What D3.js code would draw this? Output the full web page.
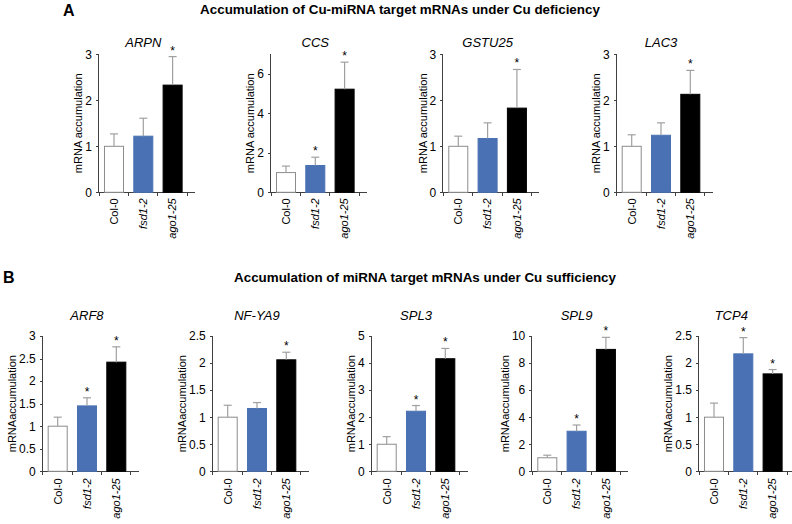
<!DOCTYPE html>
<html>
<head>
<meta charset="utf-8">
<script src="https://d3js.org/d3.v7.min.js"></script>
<style>
body { margin: 0; background: #fff; }
text { font-family: Arial, "Liberation Sans", sans-serif; fill: #000; }
.axis path, .axis line { stroke: #404040; shape-rendering: crispEdges; }
.axis text { font-size: 12px; }
</style>
</head>
<body>
<svg id="chart" width="792" height="524"></svg>
<script>
// genotypes shared by every panel
var genotypes = ["Col-0", "fsd1-2", "ago1-25"];

// panel A - Cu deficiency
var genesA = ["ARPN", "CCS", "GSTU25", "LAC3"];
var meansA = [[1.0, 1.22, 2.33], [1.0, 1.36, 5.23], [1.0, 1.17, 1.83], [1.0, 1.24, 2.13]];
var errorsA = [[0.27, 0.39, 0.62], [0.33, 0.42, 1.37], [0.22, 0.34, 0.84], [0.25, 0.27, 0.52]];
var starsA = [[0, 0, 1], [0, 1, 1], [0, 0, 1], [0, 0, 1]];
var yMaxA = [3, 7, 3, 3];
var yTicksA = [[0, 1, 2, 3], [0, 2, 4, 6], [0, 1, 2, 3], [0, 1, 2, 3]];

// panel B - Cu sufficiency
var genesB = ["ARF8", "NF-YA9", "SPL3", "SPL9", "TCP4"];
var meansB = [[1.0, 1.45, 2.42], [1.0, 1.16, 2.06], [1.0, 2.22, 4.16], [1.0, 2.96, 9.01], [1.0, 2.17, 1.80]];
var errorsB = [[0.20, 0.18, 0.34], [0.22, 0.11, 0.14], [0.28, 0.21, 0.38], [0.19, 0.46, 0.89], [0.26, 0.30, 0.08]];
var starsB = [[0, 1, 1], [0, 0, 1], [0, 1, 1], [0, 1, 1], [0, 1, 1]];
var yMaxB = [3, 2.5, 5, 10, 2.5];
var yTicksB = [[0, 0.5, 1, 1.5, 2, 2.5, 3], [0, 0.5, 1, 1.5, 2, 2.5], [0, 1, 2, 3, 4, 5], [0, 2, 4, 6, 8, 10], [0, 0.5, 1, 1.5, 2, 2.5]];

var titleA = "Accumulation of Cu-miRNA target mRNAs under Cu deficiency";
var titleB = "Accumulation of miRNA target mRNAs under Cu sufficiency";

var fills = ["#ffffff", "#4a71b3", "#000000"];
var strokes = ["#8c8c8c", "#4a71b3", "#000000"];

var svg = d3.select("#chart");

// section headings
svg.append("text").attr("x", 63).attr("y", 16).style("font-size", "16px").style("font-weight", "bold").text("A");
svg.append("text").attr("x", 3).attr("y", 283).style("font-size", "16px").style("font-weight", "bold").text("B");
svg.append("text").attr("x", 400).attr("y", 14).attr("text-anchor", "middle")
    .style("font-size", "13.4px").style("font-weight", "bold").text(titleA);
svg.append("text").attr("x", 425).attr("y", 282).attr("text-anchor", "middle")
    .style("font-size", "13.4px").style("font-weight", "bold").text(titleB);

function drawPanel(opt) {
    var g = svg.append("g").attr("transform", "translate(" + opt.x + ",0)");

    var y = d3.scaleLinear().domain([0, opt.yMax]).range([opt.bottom, opt.top]);
    var x = d3.scaleBand().domain(genotypes).range([0, 88.6])
        .paddingInner(0.317).paddingOuter(0.17);
    var cx = function(i) { return x(genotypes[i]) + x.bandwidth() / 2; };

    // y axis
    var ya = g.append("g").attr("class", "axis")
        .call(d3.axisLeft(y).tickValues(opt.ticks).tickFormat(d3.format("~g")).tickSize(3).tickPadding(4));
    ya.select(".domain").attr("d", "M-0.5," + opt.bottom + "V" + opt.top);

    // x axis line with small ticks between categories
    var xa = g.append("g").attr("class", "axis");
    xa.append("path").attr("d", "M0," + (opt.bottom + 0.5) + "H96").attr("fill", "none");
    var bounds = [0].concat(genotypes.map(function(d) { return x(d) + x.bandwidth() + x.step() * 0.317 / 2; }));
    xa.selectAll("line").data(bounds).enter().append("line")
        .attr("x1", function(d) { return d; }).attr("x2", function(d) { return d; })
        .attr("y1", opt.bottom).attr("y2", opt.bottom + 4);

    // bars
    g.selectAll("rect.bar").data(opt.means).enter().append("rect")
        .attr("class", "bar")
        .attr("x", function(d, i) { return x(genotypes[i]) + 0.5; })
        .attr("y", function(d) { return y(d); })
        .attr("width", x.bandwidth() - 1)
        .attr("height", function(d) { return y(0) - y(d); })
        .attr("fill", function(d, i) { return fills[i]; })
        .attr("stroke", function(d, i) { return strokes[i]; })
        .attr("stroke-width", 1);

    // error bars (upper only)
    var eb = g.selectAll("g.err").data(opt.means).enter().append("g").attr("class", "err")
        .attr("stroke", "#a0a0a0").attr("stroke-width", 1.2);
    eb.append("line")
        .attr("x1", function(d, i) { return cx(i); })
        .attr("x2", function(d, i) { return cx(i); })
        .attr("y1", function(d) { return y(d); })
        .attr("y2", function(d, i) { return y(d + opt.errors[i]); });
    eb.append("line")
        .attr("x1", function(d, i) { return cx(i) - 4; })
        .attr("x2", function(d, i) { return cx(i) + 4; })
        .attr("y1", function(d, i) { return y(d + opt.errors[i]); })
        .attr("y2", function(d, i) { return y(d + opt.errors[i]); });

    // significance stars
    opt.means.forEach(function(d, i) {
        if (!opt.stars[i]) return;
        g.append("text")
            .attr("x", cx(i))
            .attr("y", y(d + opt.errors[i]) - 2)
            .attr("text-anchor", "middle")
            .style("font-size", "12px")
            .text("*");
    });

    // category labels
    g.selectAll("text.cat").data(genotypes).enter().append("text")
        .attr("class", "cat")
        .attr("transform", function(d, i) {
            return "translate(" + cx(i) + "," + (opt.bottom + opt.catGap) + ") rotate(-90)";
        })
        .attr("dy", "0.35em")
        .attr("text-anchor", "end")
        .style("font-size", "11px")
        .style("font-style", function(d, i) { return i === 0 ? "normal" : "italic"; })
        .text(function(d) { return d; });

    // y label, placed just left of the tick labels
    var left = ya.node().getBBox().x;
    g.append("text")
        .attr("transform", "translate(" + (left - 3) + "," + ((opt.top + opt.bottom) / 2) + ") rotate(-90)")
        .attr("text-anchor", "middle")
        .style("font-size", "11px")
        .text(opt.ylabel);

    // gene name
    g.append("text")
        .attr("x", 44.3 + (opt.titleDx || 0))
        .attr("y", opt.titleY)
        .attr("text-anchor", "middle")
        .style("font-size", "13px")
        .style("font-style", "italic")
        .text(opt.gene);
}

var axisXA = [99, 271, 443.3, 616.7];
genesA.forEach(function(gene, k) {
    drawPanel({
        x: axisXA[k], top: 54.3, bottom: 192.3, yMax: yMaxA[k], ticks: yTicksA[k],
        means: meansA[k], errors: errorsA[k], stars: starsA[k], gene: gene,
        ylabel: "mRNA accumulation", titleY: 46.7, catGap: 6
    });
});

var axisXB = [42.7, 212.7, 371.7, 532.3, 699];
var titleDxB = [0, 0, 0, 0, -12];
genesB.forEach(function(gene, k) {
    drawPanel({
        x: axisXB[k], top: 336, bottom: 471.3, yMax: yMaxB[k], ticks: yTicksB[k],
        means: meansB[k], errors: errorsB[k], stars: starsB[k], gene: gene,
        ylabel: "mRNAaccumulation", titleY: 319.5, catGap: 7, titleDx: titleDxB[k]
    });
});
</script>
</body>
</html>
